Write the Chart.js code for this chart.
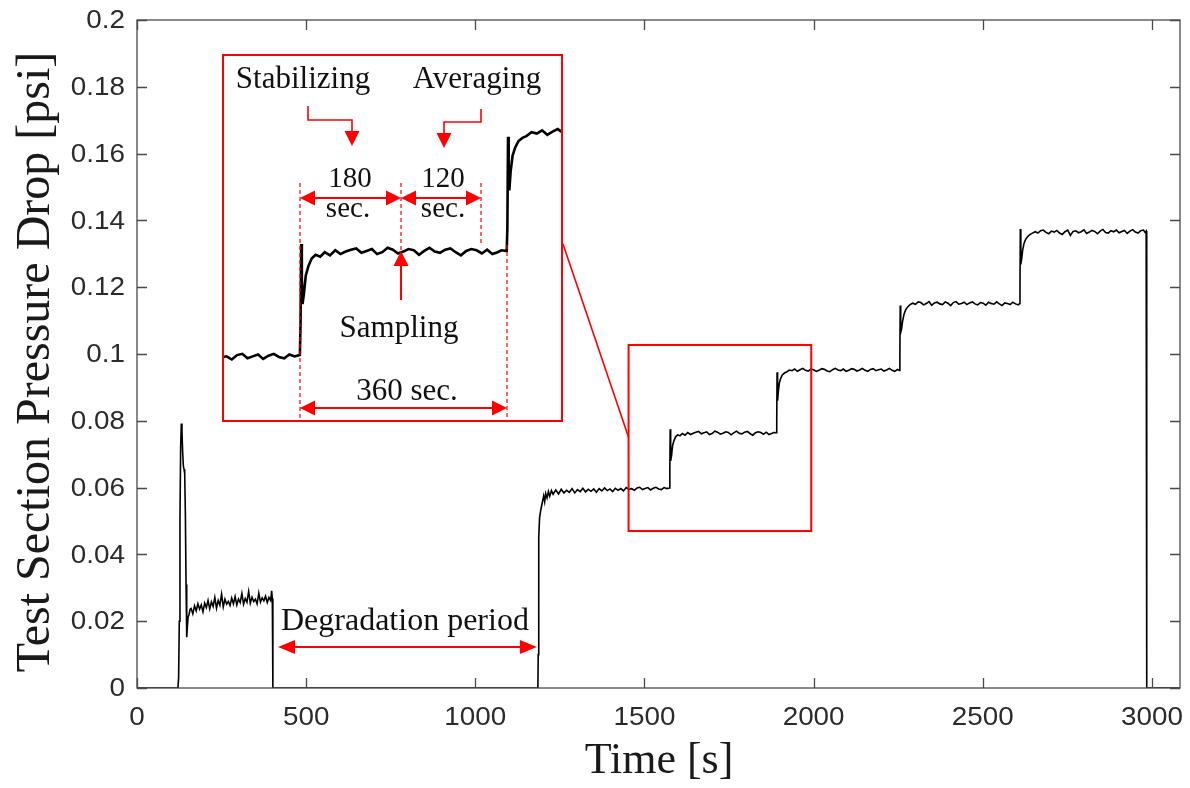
<!DOCTYPE html>
<html>
<head>
<meta charset="utf-8">
<title>Test section pressure drop</title>
<script src="https://cdn.jsdelivr.net/npm/chart.js@4.4.0/dist/chart.umd.min.js"></script>
<style>
  html, body { margin: 0; padding: 0; background: #fff; }
  #wrap  { position: relative; width: 1190px; height: 788px; }
  #main  { position: absolute; left: 0; top: 0; }
  #inset { position: absolute; left: 222px; top: 54px; }
</style>
</head>
<body>
<div id="wrap">
  <canvas id="main" width="1190" height="788"></canvas>
  <canvas id="inset" width="341" height="368"></canvas>
</div>
<script>
// ---- data: [time s, pressure drop psi] ----
const idleStart = [[0, 0], [121, 0]];

const firstRun = [
  [121, 0], [123, 0.003], [125, 0.02], [127, 0.05], [129, 0.072], [131, 0.0792], [133, 0.0768],
  [135, 0.0705], [137, 0.0664], [139, 0.0655], [141, 0.0642], [143, 0.052], [145, 0.031],
  [147, 0.0152], [149, 0.0185], [151, 0.0212], [154, 0.0221], [157, 0.0236],
  [160, 0.0238], [165, 0.0222], [170, 0.0246], [175, 0.0231], [180, 0.0252], [185, 0.0236],
  [190, 0.0249], [195, 0.0228], [200, 0.0254], [205, 0.0241], [210, 0.0262], [215, 0.0237],
  [220, 0.0258], [225, 0.0244], [230, 0.0271], [235, 0.0239], [240, 0.0262], [245, 0.0248],
  [250, 0.0281], [255, 0.0243], [260, 0.0266], [265, 0.0251], [270, 0.0259], [275, 0.0247],
  [280, 0.0269], [285, 0.0252], [290, 0.0274], [295, 0.0249], [300, 0.0266], [305, 0.0256],
  [310, 0.0283], [315, 0.0251], [320, 0.0268], [325, 0.0257], [330, 0.0289], [335, 0.0254],
  [340, 0.0272], [345, 0.0259], [350, 0.0266], [355, 0.0252], [360, 0.0284], [365, 0.0257],
  [370, 0.0270], [375, 0.0261], [380, 0.0275], [385, 0.0256], [390, 0.0271], [395, 0.0262],
  [398, 0.0291], [400, 0.0268], [401, 0.006], [402, 0]
];

const degradation = [[402, 0], [1185, 0]];

const stepOne = [
  [1185, 0], [1186, 0.01], [1187, 0.03], [1188, 0.045], [1190, 0.051], [1193, 0.053],
  [1196, 0.0545], [1199, 0.056], [1202, 0.0575], [1205, 0.0558], [1208, 0.0582], [1212, 0.0569],
  [1216, 0.0588], [1220, 0.0574], [1225, 0.0591], [1230, 0.058], [1238, 0.0593], [1246, 0.0581],
  [1254, 0.0595], [1262, 0.0584], [1270, 0.0592], [1278, 0.0586], [1286, 0.0597], [1294, 0.0584],
  [1302, 0.0594], [1310, 0.0588], [1318, 0.0598], [1326, 0.0587], [1334, 0.0595], [1342, 0.0589],
  [1350, 0.0596], [1358, 0.0586], [1366, 0.0597], [1374, 0.0590], [1382, 0.0599], [1390, 0.0591],
  [1398, 0.0596], [1406, 0.0588], [1414, 0.0598], [1422, 0.0592], [1430, 0.0597], [1438, 0.0590],
  [1446, 0.0600], [1454, 0.0595], [1462, 0.0597], [1470, 0.0592], [1478, 0.0599], [1486, 0.0601],
  [1494, 0.0594], [1502, 0.0597], [1510, 0.0600], [1518, 0.0593], [1526, 0.0598], [1534, 0.0601],
  [1542, 0.0596], [1550, 0.0594], [1558, 0.0600], [1566, 0.0597], [1574, 0.0599]
];

const stepTwo = [
  [1575, 0.065], [1576, 0.0775], [1577, 0.072], [1578, 0.068], [1580, 0.0695], [1583, 0.0725],
  [1587, 0.074], [1592, 0.0752], [1598, 0.0758], [1605, 0.0755], [1612, 0.0762], [1620, 0.0757],
  [1628, 0.0765], [1636, 0.0759], [1644, 0.0763], [1652, 0.0766], [1660, 0.0768], [1668, 0.0761],
  [1676, 0.0764], [1684, 0.0767], [1692, 0.0759], [1700, 0.0762], [1708, 0.0769], [1716, 0.0766],
  [1724, 0.0760], [1732, 0.0763], [1740, 0.0767], [1748, 0.0765], [1756, 0.0758], [1764, 0.0764],
  [1772, 0.0769], [1780, 0.0763], [1788, 0.0761], [1796, 0.0766], [1804, 0.0768], [1812, 0.0762],
  [1820, 0.0757], [1828, 0.0764], [1836, 0.0767], [1844, 0.0765], [1852, 0.0760], [1860, 0.0766],
  [1868, 0.0759], [1876, 0.0762], [1882, 0.0765], [1890, 0.0764]
];

const stepThree = [
  [1891, 0.08], [1892, 0.0945], [1893, 0.088], [1894, 0.086], [1896, 0.089], [1899, 0.0915],
  [1903, 0.0928], [1908, 0.0938], [1914, 0.0943], [1920, 0.0946], [1928, 0.0952], [1936, 0.0950],
  [1944, 0.0955], [1952, 0.0948], [1960, 0.0953], [1968, 0.0957], [1976, 0.0951], [1984, 0.0949],
  [1992, 0.0955], [2000, 0.0953], [2008, 0.0948], [2016, 0.0951], [2024, 0.0956], [2032, 0.0954],
  [2040, 0.0949], [2048, 0.0947], [2056, 0.0953], [2064, 0.0957], [2072, 0.0952], [2080, 0.0950],
  [2088, 0.0955], [2096, 0.0948], [2104, 0.0951], [2112, 0.0956], [2120, 0.0954], [2128, 0.0949],
  [2136, 0.0952], [2144, 0.0957], [2152, 0.0951], [2160, 0.0948], [2168, 0.0954], [2176, 0.0956],
  [2184, 0.0950], [2192, 0.0953], [2200, 0.0955], [2208, 0.0949], [2216, 0.0952], [2224, 0.0957],
  [2232, 0.0951], [2240, 0.0948], [2248, 0.0954], [2254, 0.0951]
];

const stepFour = [
  [2255, 0.1], [2256, 0.1145], [2257, 0.109], [2258, 0.1065], [2260, 0.1075], [2263, 0.1098],
  [2267, 0.1118], [2272, 0.1132], [2278, 0.1141], [2285, 0.1148], [2293, 0.1152], [2301, 0.1149],
  [2309, 0.1156], [2317, 0.1154], [2325, 0.1147], [2333, 0.1151], [2341, 0.1157], [2349, 0.1146],
  [2357, 0.1153], [2365, 0.1155], [2373, 0.1150], [2381, 0.1148], [2389, 0.1156], [2397, 0.1152],
  [2405, 0.1145], [2413, 0.1154], [2421, 0.1157], [2429, 0.1149], [2437, 0.1151], [2445, 0.1155],
  [2453, 0.1148], [2461, 0.1153], [2469, 0.1156], [2477, 0.1150], [2485, 0.1147], [2493, 0.1154],
  [2501, 0.1152], [2509, 0.1146], [2517, 0.1155], [2525, 0.1151], [2533, 0.1149], [2541, 0.1156],
  [2549, 0.1150], [2557, 0.1145], [2565, 0.1153], [2573, 0.1151], [2581, 0.1148], [2589, 0.1155],
  [2597, 0.1150], [2605, 0.1147], [2609, 0.1151]
];

const stepFive = [
  [2610, 0.12], [2611, 0.1374], [2612, 0.131], [2613, 0.1268], [2615, 0.1285], [2618, 0.1312],
  [2622, 0.1331], [2627, 0.1344], [2633, 0.1352], [2640, 0.1358], [2647, 0.1362], [2655, 0.1366],
  [2663, 0.1362], [2671, 0.1369], [2679, 0.1371], [2687, 0.1364], [2695, 0.1360], [2703, 0.1368],
  [2711, 0.1365], [2719, 0.1370], [2727, 0.1362], [2735, 0.1358], [2743, 0.1366], [2751, 0.1371],
  [2759, 0.1355], [2767, 0.1367], [2775, 0.1369], [2783, 0.1363], [2791, 0.1366], [2799, 0.1372],
  [2807, 0.1361], [2815, 0.1365], [2823, 0.1370], [2831, 0.1367], [2839, 0.1360], [2847, 0.1368],
  [2855, 0.1373], [2863, 0.1364], [2871, 0.1362], [2879, 0.1369], [2887, 0.1366], [2895, 0.1371],
  [2903, 0.1363], [2911, 0.1367], [2919, 0.1370], [2927, 0.1361], [2935, 0.1368], [2943, 0.1372],
  [2951, 0.1365], [2959, 0.1362], [2967, 0.1369], [2975, 0.1371], [2980, 0.1364], [2983, 0.1368],
  [2984, 0.002], [2985, 0]
];

const shutdown = [[2985, 0], [3083, 0]];

const timeTicks     = [0, 500, 1000, 1500, 2000, 2500, 3000];
const pressureTicks = [0, 0.02, 0.04, 0.06, 0.08, 0.1, 0.12, 0.14, 0.16, 0.18, 0.2];
const pressureLabels = ["0", "0.02", "0.04", "0.06", "0.08", "0.1", "0.12", "0.14", "0.16", "0.18", "0.2"];

const xTitle = "Time [s]";
const yTitle = "Test Section Pressure Drop [psi]";

// zoom window marked on the main plot (time / psi)
const zoomBox = { t0: 1453, t1: 1993, p0: 0.047, p1: 0.1027 };

const RED = "#ff0000";
const AXIS = "#4a4a4a";

const trace = [...idleStart, ...firstRun, ...degradation, ...stepOne, ...stepTwo,
               ...stepThree, ...stepFour, ...stepFive, ...shutdown]
  .map(([x, y]) => ({ x, y }));

// ---- drawing helpers ----
function arrowHead(ctx, tipX, tipY, dx, dy, len, halfW) {
  const bx = tipX - dx * len, by = tipY - dy * len;
  ctx.beginPath();
  ctx.moveTo(tipX, tipY);
  ctx.lineTo(bx - dy * halfW, by + dx * halfW);
  ctx.lineTo(bx + dy * halfW, by - dx * halfW);
  ctx.closePath();
  ctx.fill();
}

function doubleArrowH(ctx, x1, x2, y, len, halfW) {
  ctx.beginPath();
  ctx.moveTo(x1 + len - 1, y);
  ctx.lineTo(x2 - len + 1, y);
  ctx.stroke();
  arrowHead(ctx, x1, y, -1, 0, len, halfW);
  arrowHead(ctx, x2, y, 1, 0, len, halfW);
}

function stretchedText(ctx, text, x, y, sx, align) {
  ctx.save();
  ctx.translate(x, y);
  ctx.scale(sx, 1);
  ctx.textAlign = align;
  ctx.fillText(text, 0, 0);
  ctx.restore();
}

// ---- main chart frame, ticks, labels, annotations ----
const mainFrame = {
  id: "mainFrame",
  afterDraw(chart) {
    const { ctx, chartArea: a, scales: { x, y } } = chart;
    ctx.save();

    // box + inward ticks
    ctx.strokeStyle = AXIS;
    ctx.lineWidth = 1.3;
    ctx.strokeRect(a.left, a.top, a.right - a.left, a.bottom - a.top);
    ctx.beginPath();
    for (const v of timeTicks) {
      const px = Math.round(x.getPixelForValue(v)) + 0.5;
      ctx.moveTo(px, a.bottom); ctx.lineTo(px, a.bottom - 10);
      ctx.moveTo(px, a.top);    ctx.lineTo(px, a.top + 10);
    }
    for (const v of pressureTicks) {
      const py = Math.round(y.getPixelForValue(v)) + 0.5;
      ctx.moveTo(a.left, py);  ctx.lineTo(a.left + 10, py);
      ctx.moveTo(a.right, py); ctx.lineTo(a.right - 10, py);
    }
    ctx.stroke();

    // tick labels
    ctx.fillStyle = "#2b2b2b";
    ctx.font = "26px 'Liberation Sans', Arial, sans-serif";
    ctx.textBaseline = "middle";
    timeTicks.forEach((v) => stretchedText(ctx, String(v), x.getPixelForValue(v), 718, 1.07, "center"));
    pressureTicks.forEach((v, i) => stretchedText(ctx, pressureLabels[i], 125, y.getPixelForValue(v) + 1, 1.07, "right"));

    // axis titles
    ctx.fillStyle = "#1a1a1a";
    ctx.textBaseline = "alphabetic";
    ctx.font = "44px 'Liberation Serif', 'Times New Roman', serif";
    ctx.textAlign = "center";
    ctx.fillText(xTitle, 659, 773);
    ctx.save();
    ctx.translate(49, 362);
    ctx.rotate(-Math.PI / 2);
    ctx.font = "48px 'Liberation Serif', 'Times New Roman', serif";
    ctx.fillText(yTitle, 0, 0);
    ctx.restore();

    // zoom window + connector to the inset
    ctx.strokeStyle = RED;
    ctx.fillStyle = RED;
    ctx.lineWidth = 2;
    const bx0 = x.getPixelForValue(zoomBox.t0), bx1 = x.getPixelForValue(zoomBox.t1);
    const by0 = y.getPixelForValue(zoomBox.p1), by1 = y.getPixelForValue(zoomBox.p0);
    ctx.strokeRect(bx0, by0, bx1 - bx0, by1 - by0);
    ctx.lineWidth = 1.6;
    ctx.beginPath();
    ctx.moveTo(563, 244);
    ctx.lineTo(bx0, y.getPixelForValue(0.0751));
    ctx.stroke();

    // degradation period arrow
    ctx.lineWidth = 2;
    doubleArrowH(ctx, x.getPixelForValue(417), x.getPixelForValue(1182), y.getPixelForValue(0.0123), 17, 7);
    ctx.fillStyle = "#111";
    ctx.font = "32px 'Liberation Serif', 'Times New Roman', serif";
    ctx.textAlign = "center";
    ctx.fillText("Degradation period", x.getPixelForValue(792), y.getPixelForValue(0.0174));

    ctx.restore();
  }
};

new Chart(document.getElementById("main"), {
  type: "line",
  data: {
    datasets: [{
      data: trace,
      borderColor: "#000",
      borderWidth: 1.6,
      pointRadius: 0,
      tension: 0,
    }],
  },
  options: {
    responsive: false,
    animation: false,
    devicePixelRatio: 1,
    layout: { padding: { top: 20, right: 10, left: 0, bottom: 0 } },
    plugins: { legend: { display: false }, tooltip: { enabled: false } },
    scales: {
      x: {
        type: "linear", min: 0, max: 3083,
        grid: { display: false }, border: { display: false }, ticks: { display: false },
        afterBuildTicks: (s) => { s.ticks = timeTicks.map((v) => ({ value: v })); },
        afterFit: (s) => { s.height = 100; },
      },
      y: {
        type: "linear", min: 0, max: 0.2,
        grid: { display: false }, border: { display: false }, ticks: { display: false },
        afterBuildTicks: (s) => { s.ticks = pressureTicks.map((v) => ({ value: v })); },
        afterFit: (s) => { s.width = 137; },
      },
    },
  },
  plugins: [mainFrame],
});

// ---- inset: enlarged view of the zoom window ----
const insetBackground = {
  id: "insetBackground",
  beforeDraw(chart) {
    const { ctx, width, height } = chart;
    ctx.save();
    ctx.fillStyle = "#fff";
    ctx.fillRect(0, 0, width, height);
    ctx.restore();
  }
};

const insetNotes = {
  id: "insetNotes",
  afterDraw(chart) {
    const { ctx, width, height } = chart;
    ctx.save();
    ctx.strokeStyle = RED;
    ctx.fillStyle = RED;

    // frame
    ctx.lineWidth = 2;
    ctx.strokeRect(1, 1, width - 2, height - 2);

    // dashed guide lines
    ctx.lineWidth = 1.2;
    ctx.setLineDash([4, 3]);
    ctx.beginPath();
    ctx.moveTo(78, 129);  ctx.lineTo(78, 366);
    ctx.moveTo(179, 129); ctx.lineTo(179, 196);
    ctx.moveTo(259, 129); ctx.lineTo(259, 191);
    ctx.moveTo(285, 191); ctx.lineTo(285, 366);
    ctx.stroke();
    ctx.setLineDash([]);

    // bent leaders from the phase names
    ctx.lineWidth = 1.6;
    ctx.beginPath();
    ctx.moveTo(86, 52); ctx.lineTo(86, 66); ctx.lineTo(130, 66); ctx.lineTo(130, 78);
    ctx.moveTo(259, 55); ctx.lineTo(259, 68); ctx.lineTo(222, 68); ctx.lineTo(222, 80);
    ctx.stroke();
    arrowHead(ctx, 130, 92, 0, 1, 15, 7.5);
    arrowHead(ctx, 222, 94, 0, 1, 15, 7.5);

    // span arrows
    ctx.lineWidth = 2;
    doubleArrowH(ctx, 78, 179, 144, 15, 7.5);
    doubleArrowH(ctx, 179, 259, 144, 15, 7.5);
    doubleArrowH(ctx, 78, 285, 354, 15, 7.5);

    // sampling arrow
    ctx.beginPath();
    ctx.moveTo(179, 246); ctx.lineTo(179, 210);
    ctx.stroke();
    arrowHead(ctx, 179, 197, 0, -1, 15, 7.5);

    // texts
    ctx.fillStyle = "#111";
    ctx.textAlign = "center";
    ctx.textBaseline = "alphabetic";
    ctx.font = "31px 'Liberation Serif', 'Times New Roman', serif";
    ctx.fillText("Stabilizing", 81, 34);
    ctx.fillText("Averaging", 255, 34);
    ctx.fillText("Sampling", 177, 283);
    ctx.fillText("360 sec.", 185, 346);
    ctx.font = "29px 'Liberation Serif', 'Times New Roman', serif";
    ctx.fillText("180", 128, 133);
    ctx.fillText("sec.", 126, 163);
    ctx.fillText("120", 221, 133);
    ctx.fillText("sec.", 221, 163);
    ctx.restore();
  }
};

new Chart(document.getElementById("inset"), {
  type: "line",
  data: {
    datasets: [{
      data: trace,
      borderColor: "#000",
      borderWidth: 2.6,
      pointRadius: 0,
      tension: 0,
    }],
  },
  options: {
    responsive: false,
    animation: false,
    devicePixelRatio: 1,
    layout: { padding: 0 },
    plugins: { legend: { display: false }, tooltip: { enabled: false } },
    scales: {
      x: { type: "linear", display: false, min: 1455, max: 1976 },
      y: { type: "linear", display: false, min: 0.0493, max: 0.1076 },
    },
  },
  plugins: [insetBackground, insetNotes],
});
</script>
</body>
</html>
